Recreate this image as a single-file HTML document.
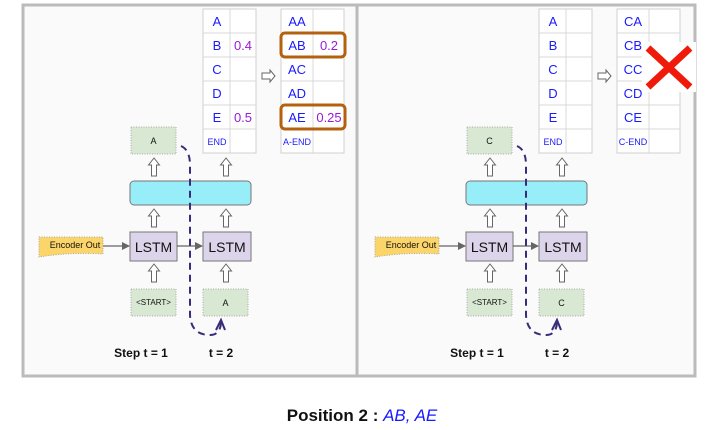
<!DOCTYPE html>
<html><head><meta charset="utf-8"><style>
html,body{margin:0;padding:0;background:#fff;width:720px;height:430px;overflow:hidden}
svg text{font-family:"Liberation Sans",Arial,sans-serif}
</style></head><body>
<svg width="720" height="430" viewBox="0 0 720 430" xmlns="http://www.w3.org/2000/svg">
<defs>
<path id="ua" d="M0,0 L5.5,7 L2.5,7 L2.5,18 L-2.5,18 L-2.5,7 L-5.5,7 Z" fill="#fff" stroke="#666" stroke-width="1"/>
<marker id="ah" markerWidth="8" markerHeight="8" refX="7" refY="4" orient="auto" markerUnits="userSpaceOnUse"><path d="M0,0 L8,4 L0,8 Z" fill="#666"/></marker>
<g id="common">
  <rect x="203" y="9" width="53" height="144" fill="#fff" stroke="#d0d0d0"/>
  <g stroke="#d8d8d8"><line x1="230" y1="9" x2="230" y2="153"/>
  <line x1="203" y1="33" x2="256" y2="33"/><line x1="203" y1="57" x2="256" y2="57"/><line x1="203" y1="81" x2="256" y2="81"/><line x1="203" y1="105" x2="256" y2="105"/><line x1="203" y1="129" x2="256" y2="129"/></g>
  <g fill="#1a1aff" font-size="13" text-anchor="middle"><text x="217" y="26">A</text><text x="217" y="50">B</text><text x="217" y="74">C</text><text x="217" y="98">D</text><text x="217" y="122">E</text><text x="217" y="145" font-size="9">END</text></g>
  <rect x="281" y="9" width="63" height="144" fill="#fff" stroke="#d0d0d0"/>
  <g stroke="#d8d8d8"><line x1="313" y1="9" x2="313" y2="153"/>
  <line x1="281" y1="33" x2="344" y2="33"/><line x1="281" y1="57" x2="344" y2="57"/><line x1="281" y1="81" x2="344" y2="81"/><line x1="281" y1="105" x2="344" y2="105"/><line x1="281" y1="129" x2="344" y2="129"/></g>
  <path d="M262,73 L270,73 L270,70 L275,76 L270,82 L270,79 L262,79 Z" fill="#fff" stroke="#666"/>
  <rect x="131" y="127" width="45" height="27" fill="#d9e8d2" stroke="#aaa" stroke-dasharray="1,1.5"/>
  <use href="#ua" x="154" y="158"/><use href="#ua" x="226" y="158"/>
  <rect x="130" y="181" width="121" height="24" rx="4" fill="#98eef8" stroke="#777"/>
  <use href="#ua" x="154" y="209"/><use href="#ua" x="226" y="209"/>
  <rect x="130" y="232" width="47" height="29" fill="#dcd4ea" stroke="#777"/>
  <rect x="203" y="232" width="48" height="29" fill="#dcd4ea" stroke="#777"/>
  <g font-size="14" text-anchor="middle" fill="#111"><text x="153.5" y="252">LSTM</text><text x="227" y="252">LSTM</text></g>
  <path d="M39,237 L103,237 L103,254 Q70,252 39,257 Z" fill="#fcd56a" stroke="#aaa" stroke-dasharray="1,1.5"/>
  <text x="75" y="248" font-size="9" text-anchor="middle" fill="#111">Encoder Out</text>
  <line x1="103" y1="246" x2="129" y2="246" stroke="#666" stroke-width="1.3" marker-end="url(#ah)"/>
  <line x1="177" y1="246" x2="202" y2="246" stroke="#666" stroke-width="1.3" marker-end="url(#ah)"/>
  <use href="#ua" x="154" y="264"/><use href="#ua" x="226" y="264"/>
  <rect x="131" y="289" width="45" height="27" fill="#d9e8d2" stroke="#aaa" stroke-dasharray="1,1.5"/>
  <text x="153.5" y="305" font-size="8" text-anchor="middle" fill="#111">&lt;START&gt;</text>
  <rect x="203" y="289" width="45" height="27" fill="#d9e8d2" stroke="#aaa" stroke-dasharray="1,1.5"/>
  <path d="M181,146 Q190,150 190,165 L190,315 Q191,335 210,335 Q220,335 221,323" fill="none" stroke="#3a2a7a" stroke-width="2" stroke-dasharray="7,5"/>
  <path d="M216,330 L221,320 L225,330" fill="none" stroke="#3a2a7a" stroke-width="2"/>
  <g font-size="12" font-weight="bold" fill="#111" text-anchor="middle"><text x="141" y="357">Step  t = 1</text><text x="221" y="357">t = 2</text></g>
</g>
</defs>
<rect x="0" y="0" width="720" height="430" fill="#fff"/>
<rect x="23" y="5" width="672" height="371" fill="#fafafa" stroke="#bbb" stroke-width="3"/>
<line x1="357" y1="5" x2="357" y2="376" stroke="#bbb" stroke-width="3"/>
<use href="#common"/>
<g fill="#1a1aff" font-size="13" text-anchor="middle"><text x="297" y="26">AA</text><text x="297" y="50">AB</text><text x="297" y="74">AC</text><text x="297" y="98">AD</text><text x="297" y="122">AE</text><text x="297" y="145" font-size="9">A-END</text></g>
<g fill="#9b1ad8" font-size="13" text-anchor="middle"><text x="243" y="50">0.4</text><text x="243" y="122">0.5</text><text x="329" y="50">0.2</text><text x="329" y="122">0.25</text></g>
<rect x="281" y="33" width="64" height="24" rx="4" fill="none" stroke="#b3600f" stroke-width="3"/>
<rect x="281" y="105" width="64" height="24" rx="4" fill="none" stroke="#b3600f" stroke-width="3"/>
<text x="153.5" y="144" font-size="9" text-anchor="middle" fill="#111">A</text>
<text x="225.5" y="306" font-size="9" text-anchor="middle" fill="#111">A</text>
<g transform="translate(336,0)">
<use href="#common"/>
<rect x="281" y="9" width="63" height="144" fill="#fff" stroke="#d0d0d0"/>
<g stroke="#d8d8d8"><line x1="313" y1="9" x2="313" y2="153"/>
<line x1="281" y1="33" x2="344" y2="33"/><line x1="281" y1="57" x2="344" y2="57"/><line x1="281" y1="81" x2="344" y2="81"/><line x1="281" y1="105" x2="344" y2="105"/><line x1="281" y1="129" x2="344" y2="129"/></g>
<g fill="#1a1aff" font-size="13" text-anchor="middle"><text x="297" y="26">CA</text><text x="297" y="50">CB</text><text x="297" y="74">CC</text><text x="297" y="98">CD</text><text x="297" y="122">CE</text><text x="297" y="145" font-size="9">C-END</text></g>
<text x="153.5" y="144" font-size="9" text-anchor="middle" fill="#111">C</text>
<text x="225.5" y="306" font-size="9" text-anchor="middle" fill="#111">C</text>
<rect x="306" y="42" width="54" height="50" fill="#fff"/>
<g stroke="#f01a0a" stroke-width="7"><line x1="312" y1="48" x2="354" y2="87"/><line x1="354" y1="48" x2="312" y2="87"/></g>
</g>
<text x="362" y="421" font-size="17" font-weight="bold" text-anchor="middle" fill="#111">Position 2  : <tspan fill="#1a1aff" font-weight="normal" font-style="italic">AB, AE</tspan></text>
</svg>
</body></html>
